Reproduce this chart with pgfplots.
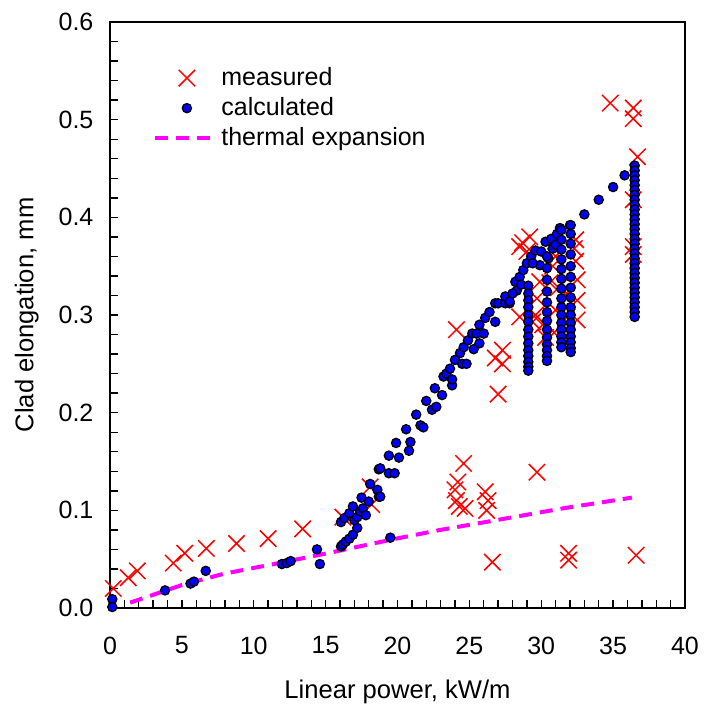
\documentclass[border=0pt]{standalone}
\usepackage{fontspec}
\setmainfont{Liberation Sans}
\usepackage{pgfplots}
\pgfplotsset{compat=1.18}
\definecolor{mag}{rgb}{1,0,1}
\definecolor{pblue}{rgb}{0,0,1}
\pgfplotsset{
  marklegend/.style={legend image code/.code={\draw[##1] plot coordinates {(15.75bp,0bp)};}},
  linelegend/.style={legend image code/.code={\draw[##1] (0bp,0bp) -- (31.5bp,0bp);}},
}
\begin{document}
\begin{tikzpicture}
\begin{axis}[
  width=287.5bp, height=293bp, scale only axis,
  xmin=0, xmax=40, ymin=0, ymax=0.6,
  xtick={0,5,10,15,20,25,30,35,40},
  ytick={0,0.1,0.2,0.3,0.4,0.5,0.6},
  minor x tick num=4, minor y tick num=4,
  tick align=inside, xtick pos=bottom, ytick pos=left,
  major tick length=4bp, minor tick length=4bp,
  axis line style={line width=1bp},
  every tick/.style={line width=0.7bp, black},
  /pgf/number format/assume math mode=true,
  yticklabel style={/pgf/number format/fixed, /pgf/number format/fixed zerofill, /pgf/number format/precision=1, xshift=-4.8bp},
  xticklabel style={yshift=-10.8bp},
  tick label style={font=\fontsize{12.5bp}{15bp}\selectfont},
  every axis x label/.style={at={(axis description cs:0.5,0)}, anchor=base, yshift=-45.2bp, font=\fontsize{12.8bp}{15bp}\selectfont},
  every axis y label/.style={at={(axis description cs:-0.1333,0.5)}, rotate=90, anchor=base, font=\fontsize{12.8bp}{15bp}\selectfont},
  xlabel={Linear power, kW/m},
  ylabel={Clad elongation, mm},
  clip=false,
  legend cell align=left,
  legend style={draw=none, fill=none, inner sep=0pt, at={(0.0748,0.853)}, anchor=west,
    font=\fontsize{12.5bp}{15bp}\selectfont, row sep=0.5bp,
    /tikz/every odd column/.append style={column sep=-1.5bp}},
]
\addplot[only marks, mark=x, mark size=5.8bp, red, line width=0.75bp, marklegend]
coordinates {
(0.23,0.020) (1.27,0.031) (1.9,0.038) (4.4,0.046) (5.2,0.056) (6.7,0.061)
(8.8,0.066) (11.0,0.071) (13.4,0.081) (16.2,0.093) (18.1,0.124) (18.2,0.106)
(24.1,0.285) (26.8,0.256) (27.0,0.219) (24.6,0.148) (24.2,0.129) (24.0,0.121)
(24.1,0.110) (24.3,0.104) (24.7,0.102) (26.1,0.119) (26.3,0.110) (26.2,0.100)
(29.7,0.139) (26.6,0.047) (31.9,0.056) (31.9,0.049) (36.6,0.054)
(34.8,0.517) (36.4,0.512) (36.4,0.501) (36.7,0.462) (36.4,0.418) (36.4,0.370) (36.4,0.362)
(28.7,0.374) (29.2,0.380) (28.5,0.370) (29.0,0.365) (32.3,0.368) (32.4,0.377)
(28.5,0.298) (29.9,0.334) (30.6,0.333) (29.7,0.317) (29.4,0.293) (30.1,0.290)
(31.8,0.298) (32.5,0.336) (32.5,0.315) (32.5,0.295) (31.8,0.322) (31.0,0.305)
(30.3,0.277) (27.3,0.264) (27.3,0.250) (30.8,0.350) (31.2,0.328) (29.6,0.300)
(30.9,0.282) (32.4,0.355) (31.0,0.360)
};
\addlegendentry{measured}
\addplot[only marks, mark=*, mark size=2.3bp, mark options={fill=pblue, draw=black, line width=0.65bp}, marklegend]
coordinates {
(0.16,0.009) (0.16,0.001) (3.83,0.018) (5.6,0.025) (5.84,0.027) (6.66,0.038)
(11.96,0.045) (12.3,0.046) (12.57,0.048) (14.4,0.060) (14.6,0.045)
(16.07,0.063) (16.2,0.065) (16.4,0.068) (16.65,0.071) (16.9,0.075) (17.2,0.082)
(16.07,0.088) (16.3,0.092) (16.65,0.097) (16.9,0.104) (17.0,0.090) (17.2,0.093)
(17.4,0.099) (17.6,0.102) (17.8,0.095) (17.5,0.113) (18.0,0.109) (18.1,0.127)
(18.6,0.121) (18.7,0.114) (18.7,0.142) (19.4,0.156) (19.4,0.138) (19.8,0.138)
(19.9,0.169) (20.1,0.154) (19.5,0.072) (18.8,0.114) (18.8,0.143)
(20.8,0.161) (20.9,0.170) (20.6,0.183) (21.3,0.198) (21.6,0.187) (21.8,0.185)
(22.0,0.212) (22.4,0.203) (22.7,0.206) (22.6,0.225) (23.1,0.218) (23.2,0.237)
(23.4,0.240) (23.65,0.245) (23.8,0.228) (23.8,0.234) (24.0,0.254) (24.35,0.261)
(24.5,0.250) (24.8,0.250) (24.6,0.267) (24.9,0.274) (25.3,0.265) (25.2,0.281)
(25.7,0.271) (25.5,0.281) (26.0,0.281) (25.7,0.290) (26.1,0.297) (26.4,0.303)
(26.8,0.293) (26.8,0.312) (27.0,0.312) (27.5,0.312) (27.8,0.312)
(27.5,0.319) (27.8,0.314) (28.2,0.334) (28.3,0.325) (28.5,0.339) (28.75,0.346)
(29.0,0.353) (29.3,0.360) (29.6,0.366) (30.0,0.365) (30.3,0.375) (30.7,0.378)
(31.1,0.383) (31.3,0.389) (32.0,0.392) (33.0,0.403) (34.0,0.418) (35.0,0.431) (35.8,0.443)
(29.9,0.351) (29.4,0.353) (30.8,0.368) (30.5,0.358) (31.0,0.372) (28.0,0.322) (28.6,0.331)
(29.1,0.330) (29.1,0.322) (29.1,0.315) (29.1,0.308) (29.1,0.300) (29.1,0.293)
(29.1,0.285) (29.1,0.278) (29.1,0.271) (29.1,0.264) (29.1,0.258) (29.1,0.252) (29.1,0.247) (29.1,0.243)
(30.4,0.360) (30.4,0.348) (30.4,0.336) (30.4,0.324) (30.4,0.313) (30.4,0.303)
(30.4,0.294) (30.4,0.285) (30.4,0.277) (30.4,0.270) (30.4,0.264) (30.4,0.258) (30.4,0.253)
(31.4,0.387) (31.4,0.377) (31.4,0.367) (31.4,0.357) (31.4,0.347) (31.4,0.337)
(31.4,0.327) (31.4,0.317) (31.4,0.308) (31.4,0.300) (31.4,0.292) (31.4,0.285)
(31.4,0.278) (31.4,0.272) (31.4,0.267)
(32.05,0.392) (32.05,0.383) (32.05,0.373) (32.05,0.362) (32.05,0.350) (32.05,0.339)
(32.05,0.328) (32.05,0.318) (32.05,0.308) (32.05,0.300) (32.05,0.292) (32.05,0.285)
(32.05,0.278) (32.05,0.272) (32.05,0.266) (32.05,0.262)
(36.5,0.453) (36.5,0.448) (36.5,0.443) (36.5,0.438) (36.5,0.433) (36.5,0.428)
(36.5,0.423) (36.5,0.418) (36.5,0.413) (36.5,0.408) (36.5,0.403) (36.5,0.398)
(36.5,0.393) (36.5,0.388) (36.5,0.383) (36.5,0.378) (36.5,0.373) (36.5,0.368)
(36.5,0.363) (36.5,0.358) (36.5,0.353) (36.5,0.348) (36.5,0.343) (36.5,0.338)
(36.5,0.333) (36.5,0.328) (36.5,0.323) (36.5,0.318) (36.5,0.313) (36.5,0.308)
(36.5,0.303) (36.5,0.298)
};
\addlegendentry{calculated}
\addplot[mag, line width=2bp, dash pattern=on 6.5bp off 4bp, linelegend]
coordinates {
(1.4,0.0055) (5.0,0.0235) (7.9,0.035) (11.4,0.045) (15.1,0.056) (18.3,0.066)
(19.9,0.071) (23.0,0.080) (26.9,0.090) (31.5,0.102) (36.3,0.113)
};
\addlegendentry{thermal expansion}
\end{axis}
\pgfresetboundingbox
\path (current axis.south west) ++(-55bp,-51.5bp) (current axis.north east) ++(10bp,11bp);
\end{tikzpicture}
\end{document}
